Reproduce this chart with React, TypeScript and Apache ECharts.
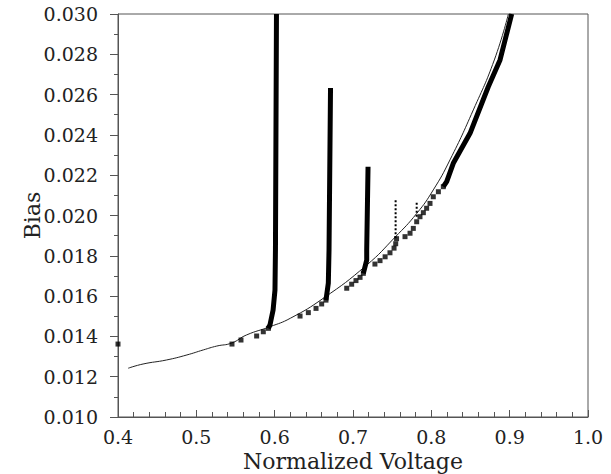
import React, { useEffect, useRef } from "react";
import * as echarts from "echarts";

const xTicks = [0.4, 0.5, 0.6, 0.7, 0.8, 0.9, 1.0];
const yTicks = [0.01, 0.012, 0.014, 0.016, 0.018, 0.02, 0.022, 0.024, 0.026, 0.028, 0.03];

const fitCurve: number[][] = [
  [0.413, 0.01242], [0.432, 0.01263], [0.462, 0.01283], [0.488, 0.01308],
  [0.509, 0.01333], [0.526, 0.01352], [0.545, 0.01367], [0.564, 0.01407],
  [0.594, 0.01448], [0.620, 0.0149], [0.662, 0.01589], [0.7175, 0.01754],
  [0.7536, 0.01892], [0.7813, 0.0201], [0.8025, 0.02127], [0.8238, 0.02276],
  [0.8536, 0.02524], [0.8804, 0.02772], [0.8984, 0.030],
];

const measuredPoints: number[][] = [
  [0.4, 0.01362],
  [0.5455, 0.01362], [0.557, 0.01382], [0.577, 0.01402], [0.5855, 0.01423], [0.592, 0.0144],
  [0.6324, 0.01501], [0.643, 0.01518], [0.6528, 0.01539], [0.66, 0.01561], [0.6655, 0.0158],
  [0.692, 0.01639], [0.6983, 0.01659], [0.7038, 0.01677], [0.709, 0.01693], [0.7132, 0.01713],
  [0.728, 0.01759], [0.7345, 0.01776], [0.741, 0.01795], [0.7472, 0.01815], [0.7524, 0.01838],
  [0.7545, 0.0186], [0.7556, 0.01885],
  [0.7664, 0.01895], [0.7728, 0.01912], [0.777, 0.01936], [0.7813, 0.01969], [0.7855, 0.01994],
  [0.7898, 0.02014], [0.794, 0.02036], [0.7983, 0.0206], [0.8025, 0.02093], [0.809, 0.02118],
  [0.8153, 0.02143],
];

const branchA: number[][] = [[0.592, 0.0144], [0.594, 0.01457], [0.598, 0.01531], [0.6004, 0.0163], [0.601, 0.01829], [0.6023, 0.030]];
const branchB: number[][] = [[0.6655, 0.0158], [0.6685, 0.01664], [0.6694, 0.01829], [0.6713, 0.02633]];
const branchC: number[][] = [[0.7132, 0.01713], [0.7175, 0.01779], [0.7175, 0.01829], [0.7192, 0.02242]];
const upperBand: number[][] = [[0.8153, 0.02143], [0.8196, 0.02168], [0.828, 0.02259], [0.8494, 0.02408], [0.8727, 0.02639], [0.8877, 0.02772], [0.9026, 0.030]];
const dottedA: number[][] = [[0.7544, 0.01887], [0.7544, 0.02085]];
const dottedB: number[][] = [[0.7813, 0.01994], [0.7813, 0.02073]];

const FONT = "DejaVu Serif";

export default function App() {
  const ref = useRef<HTMLDivElement>(null);
  useEffect(() => {
    if (!ref.current) return;
    const chart = echarts.init(ref.current, undefined, { renderer: "svg" });
    const thick = (data: number[][]) => ({
      type: "line",
      data,
      showSymbol: false,
      symbol: "none",
      lineStyle: { color: "#000", width: 5 },
      z: 3,
    });
    chart.setOption({
      animation: false,
      backgroundColor: "#fff",
      grid: {
        left: 118, right: 23, top: 14, bottom: 57,
        outerBoundsMode: "none",
        containLabel: false,
        show: true, borderColor: "#555", borderWidth: 1,
      },
      xAxis: {
        type: "value",
        min: xTicks[0],
        max: xTicks[xTicks.length - 1],
        interval: 0.1,
        name: "Normalized Voltage",
        nameLocation: "middle",
        nameGap: 31,
        nameTextStyle: { fontFamily: FONT, fontSize: 22, color: "#222" },
        axisLine: { show: true, lineStyle: { color: "#555", width: 1 } },
        axisTick: { show: true, inside: true, length: 7, lineStyle: { color: "#555" } },
        minorTick: { show: true, splitNumber: 5, length: 5, lineStyle: { color: "#555" } },
        splitLine: { show: false },
        axisLabel: {
          fontFamily: FONT, fontSize: 19, color: "#222", margin: 10,
          formatter: (v: number) => v.toFixed(1),
        },
      },
      yAxis: {
        type: "value",
        min: yTicks[0],
        max: yTicks[yTicks.length - 1],
        interval: 0.002,
        name: "Bias",
        nameLocation: "middle",
        nameGap: 75,
        nameMoveOverlap: false,
        nameTextStyle: { fontFamily: FONT, fontSize: 22, color: "#222" },
        axisLine: { show: true, lineStyle: { color: "#555", width: 1 } },
        axisTick: { show: true, inside: false, length: 8, lineStyle: { color: "#555" } },
        minorTick: { show: true, splitNumber: 2, length: 4, lineStyle: { color: "#555" } },
        splitLine: { show: false },
        axisLabel: {
          fontFamily: FONT, fontSize: 19, color: "#222", margin: 20,
          formatter: (v: number) => v.toFixed(3),
        },
      },
      series: [
        {
          type: "line",
          data: fitCurve,
          smooth: true,
          showSymbol: false,
          symbol: "none",
          lineStyle: { color: "#222", width: 1 },
          z: 2,
        },
        thick(branchA),
        thick(branchB),
        thick(branchC),
        thick(upperBand),
        {
          type: "line",
          data: dottedA,
          showSymbol: false,
          symbol: "none",
          lineStyle: { color: "#000", width: 2, type: [2, 2] },
          z: 3,
        },
        {
          type: "line",
          data: dottedB,
          showSymbol: false,
          symbol: "none",
          lineStyle: { color: "#000", width: 2, type: [2, 2] },
          z: 3,
        },
        {
          type: "scatter",
          data: measuredPoints,
          symbol: "rect",
          symbolSize: 5,
          itemStyle: { color: "#000" },
          z: 4,
        },
      ],
    });
    return () => chart.dispose();
  }, []);
  return (
    <div
      ref={ref}
      style={{ position: "fixed", left: 0, top: 0, width: 611, height: 474, background: "#fff" }}
    />
  );
}
